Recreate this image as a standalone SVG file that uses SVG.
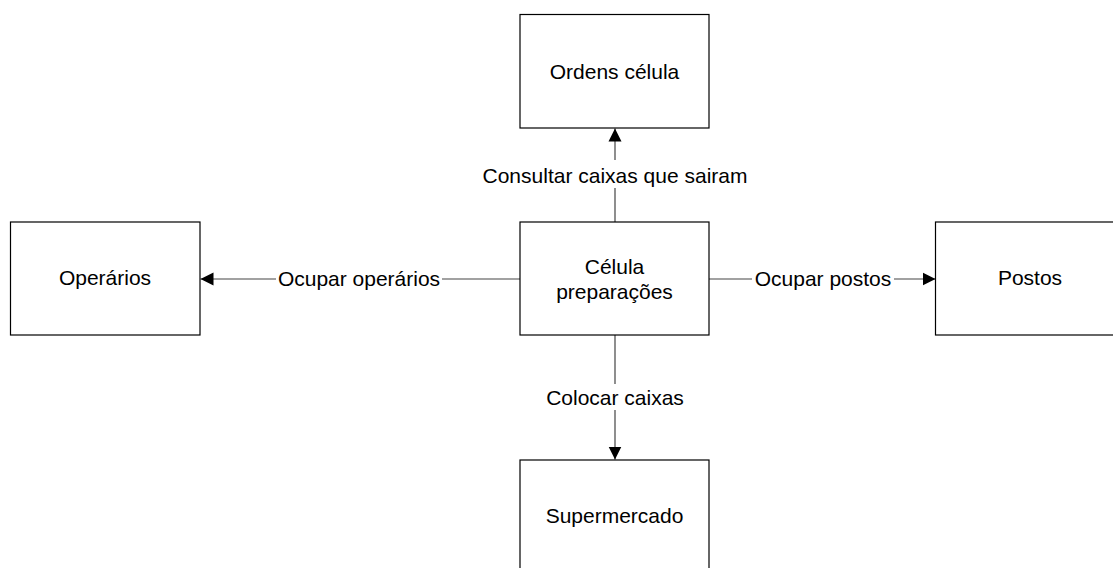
<svg xmlns="http://www.w3.org/2000/svg" width="1113" height="568" viewBox="0 0 1113 568">
<defs>
<style>
.box{fill:#fff;stroke:#000;stroke-width:1.2}
.t{font-family:"Liberation Sans",Arial,sans-serif;font-size:21px;fill:#000;text-anchor:middle}
.ln{fill:none;stroke:#444;stroke-width:1.2}
.lbl{fill:#fff;stroke:none}
</style>
<marker id="arr" markerUnits="userSpaceOnUse" markerWidth="14" markerHeight="14" viewBox="0 0 14 14" refX="13" refY="7" orient="auto">
<path d="M0,0.5 L13,7 L0,13.5 Z" fill="#000"/>
</marker>
</defs>
<rect width="1113" height="568" fill="#fff"/>
<g id="connectors">
<line class="ln" x1="615" y1="222" x2="615" y2="128.5" marker-end="url(#arr)"/>
<line class="ln" x1="520" y1="279" x2="200.5" y2="279" marker-end="url(#arr)"/>
<line class="ln" x1="709" y1="279" x2="935.5" y2="279" marker-end="url(#arr)"/>
<line class="ln" x1="615" y1="335" x2="615" y2="459.5" marker-end="url(#arr)"/>
<rect class="lbl" x="478" y="160" width="274" height="28"/>
<text class="t" x="615" y="182.5">Consultar caixas que sairam</text>
<rect class="lbl" x="276" y="266" width="166" height="26"/>
<text class="t" x="359" y="285.5">Ocupar operários</text>
<rect class="lbl" x="752" y="266" width="142" height="26"/>
<text class="t" x="823" y="285.5">Ocupar postos</text>
<rect class="lbl" x="545" y="384" width="140" height="26"/>
<text class="t" x="615" y="404.5">Colocar caixas</text>
</g>
<g id="ordens">
<rect class="box" x="520" y="14.5" width="189" height="113.5"/>
<text class="t" x="614.5" y="79">Ordens célula</text>
</g>
<g id="celula">
<rect class="box" x="520" y="222" width="189" height="113"/>
<text class="t" x="614.5" y="273.5">Célula</text>
<text class="t" x="614.5" y="298.5">preparações</text>
</g>
<g id="operarios">
<rect class="box" x="10.5" y="222" width="189.5" height="113"/>
<text class="t" x="105" y="285">Operários</text>
</g>
<g id="postos">
<rect class="box" x="935.5" y="222" width="190" height="113"/>
<text class="t" x="1030" y="285">Postos</text>
</g>
<g id="supermercado">
<rect class="box" x="520" y="460" width="189" height="113"/>
<text class="t" x="614.5" y="523">Supermercado</text>
</g>
</svg>
